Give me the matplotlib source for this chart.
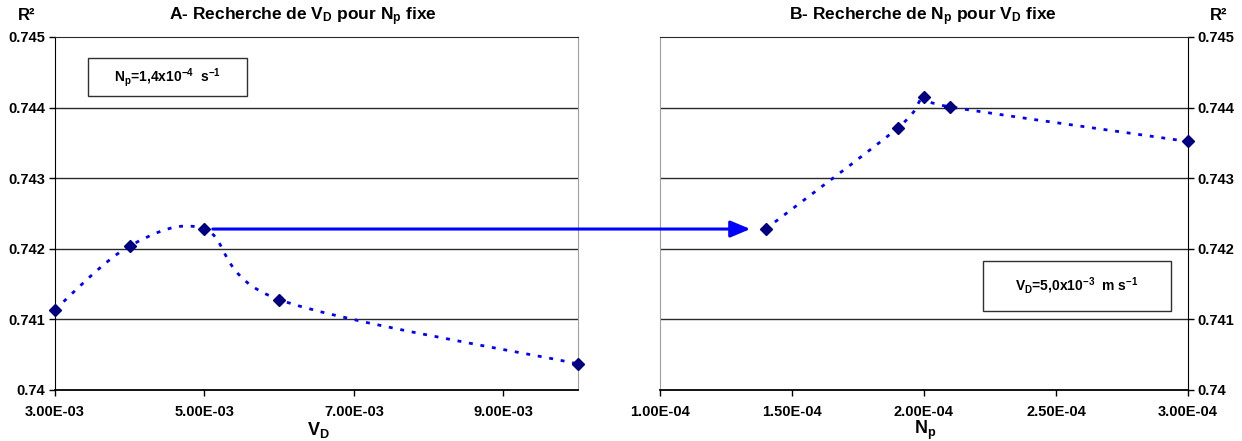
import numpy as np
import matplotlib
matplotlib.use("Agg")
import matplotlib.pyplot as plt
from matplotlib.path import Path
from matplotlib.patches import PathPatch, ConnectionPatch, Rectangle

plt.rcParams["font.family"] = ["Liberation Sans", "DejaVu Sans"]
plt.rcParams["font.weight"] = "bold"
plt.rcParams["mathtext.fontset"] = "custom"
plt.rcParams["mathtext.rm"] = "Liberation Sans:bold"
plt.rcParams["mathtext.bf"] = "Liberation Sans:bold"
plt.rcParams["mathtext.it"] = "Liberation Sans:bold"
plt.rcParams["mathtext.default"] = "bf"

# Panel A: R² vs V_D (N_p fixed)
vd = [3e-3, 4e-3, 5e-3, 6e-3, 1e-2]
r2_a = [0.74114, 0.74204, 0.74228, 0.74128, 0.74037]

# Panel B: R² vs N_p (V_D fixed)
np_vals = [1.4e-4, 1.9e-4, 2.0e-4, 2.1e-4, 3.0e-4]
r2_b = [0.74228, 0.74371, 0.74415, 0.74401, 0.74352]

y_ticks = [0.740, 0.741, 0.742, 0.743, 0.744, 0.745]
y_labels = ["0.74", "0.741", "0.742", "0.743", "0.744", "0.745"]
xa_ticks = [3e-3, 5e-3, 7e-3, 9e-3]
xa_labels = ["3.00E-03", "5.00E-03", "7.00E-03", "9.00E-03"]
xb_ticks = [1.0e-4, 1.5e-4, 2.0e-4, 2.5e-4, 3.0e-4]
xb_labels = ["1.00E-04", "1.50E-04", "2.00E-04", "2.50E-04", "3.00E-04"]


def smooth_path(x, y):
    # Excel-like smoothed line: cubic Bezier through the data points
    pts = np.column_stack([x, y])
    n = len(pts)
    verts = [pts[0]]
    codes = [Path.MOVETO]
    for i in range(n - 1):
        p0 = pts[max(i - 1, 0)]
        p1 = pts[i]
        p2 = pts[i + 1]
        p3 = pts[min(i + 2, n - 1)]
        verts += [p1 + (p2 - p0) / 6, p2 - (p3 - p1) / 6, p2]
        codes += [Path.CURVE4] * 3
    return Path(verts, codes)


def draw_series(ax, x, y):
    ax.add_patch(PathPatch(smooth_path(x, y), fill=False, edgecolor="#0000FF",
                           lw=2.0, linestyle=(0, (1.4, 2.8)), zorder=3))
    ax.plot(x, y, linestyle="none", marker="D", markersize=6.5,
            color="#000080", zorder=4, clip_on=False)


def style_axes(ax, side):
    ax.set_ylim(0.740, 0.745)
    ax.set_yticks(y_ticks)
    ax.set_yticklabels(y_labels)
    for y in y_ticks[1:-1]:
        ax.axhline(y, color="#2a2a2a", lw=1, zorder=1)
    ax.spines["top"].set_color("#2a2a2a")
    ax.spines["bottom"].set_color("black")
    ax.spines["bottom"].set_linewidth(1.3)
    if side == "left":
        ax.spines["left"].set_color("black")
        ax.spines["right"].set_color("#a0a0a0")
    else:
        ax.spines["right"].set_color("black")
        ax.spines["left"].set_color("#a0a0a0")
        ax.yaxis.tick_right()
    ax.tick_params(axis="both", direction="out", length=4, width=1,
                   labelsize=10.5, pad=3)
    ax.tick_params(axis="x", pad=7)
    for lab in ax.get_xticklabels() + ax.get_yticklabels():
        lab.set_fontweight("bold")


def param_box(ax, x0, y0, x1, y1, label):
    ax.add_patch(Rectangle((x0, y0), x1 - x0, y1 - y0, transform=ax.transAxes,
                           facecolor="white", edgecolor="#303030", lw=1,
                           zorder=5))
    ax.text((x0 + x1) / 2, (y0 + y1) / 2, label, transform=ax.transAxes,
            ha="center", va="center", fontsize=10, fontweight="bold", zorder=6)


fig = plt.figure(figsize=(12.42, 4.41), dpi=100)
ax1 = fig.add_axes([55 / 1242, 51 / 441, 523 / 1242, 353 / 441])
ax2 = fig.add_axes([660 / 1242, 51 / 441, 528 / 1242, 353 / 441])

ax1.set_xlim(3e-3, 1e-2)
ax1.set_xticks(xa_ticks)
ax1.set_xticklabels(xa_labels)
style_axes(ax1, "left")
draw_series(ax1, vd, r2_a)

ax2.set_xlim(1e-4, 3e-4)
ax2.set_xticks(xb_ticks)
ax2.set_xticklabels(xb_labels)
style_axes(ax2, "right")
draw_series(ax2, np_vals, r2_b)

# titles and axis labels
fig.text(303 / 1242, 1 - 17 / 441, r"A- Recherche de $V_D$ pour $N_p$ fixe",
         ha="center", va="center", fontsize=12.5, fontweight="bold")
fig.text(923 / 1242, 1 - 17 / 441, r"B- Recherche de $N_p$ pour $V_D$ fixe",
         ha="center", va="center", fontsize=12.5, fontweight="bold")
fig.text(27 / 1242, 1 - 16 / 441, "R²", ha="center", va="center",
         fontsize=12, fontweight="bold")
fig.text(1219 / 1242, 1 - 16 / 441, "R²", ha="center", va="center",
         fontsize=12, fontweight="bold")
fig.text(318 / 1242, 1 - 430 / 441, r"$V_D$", ha="center", va="center",
         fontsize=13, fontweight="bold")
fig.text(925 / 1242, 1 - 430 / 441, r"$N_p$", ha="center", va="center",
         fontsize=13, fontweight="bold")

# parameter boxes
param_box(ax1, 0.063, 0.833, 0.367, 0.940, r"$N_p$=1,4x10$^{-4}$  s$^{-1}$")
param_box(ax2, 0.612, 0.224, 0.968, 0.365, r"$V_D$=5,0x10$^{-3}$  m s$^{-1}$")

# arrow linking the optimum of A to the start of B
arrow = ConnectionPatch(xyA=(vd[2], r2_a[2]), coordsA=ax1.transData,
                        xyB=(np_vals[0], r2_b[0]), coordsB=ax2.transData,
                        arrowstyle="-|>,head_length=1.0,head_width=0.42",
                        mutation_scale=12, color="#0000FF", lw=2.2,
                        shrinkA=6, shrinkB=11, zorder=6)
fig.add_artist(arrow)

fig.savefig("out.png", dpi=100)
